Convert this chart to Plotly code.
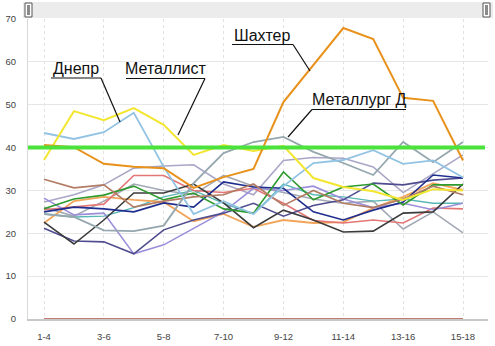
import plotly.graph_objects as go

# ---------------- data ----------------
categories = ["1-4", "2-5", "3-6", "4-7", "5-8", "6-9", "7-10", "8-11",
              "9-12", "10-13", "11-14", "12-15", "13-16", "14-17", "15-18"]
tick_labels = categories[::2]
y_ticks = [0, 10, 20, 30, 40, 50, 60, 70]
average_level = 40

shakhtar = [40.6, 40.1, 36.2, 35.5, 35.2, 30.6, 33.1, 35.0, 50.6, 59.3, 67.9, 65.3, 51.6, 50.9, 37.0]
metallist = [37.1, 48.5, 46.4, 49.2, 45.3, 38.3, 40.6, 39.2, 40.4, 32.9, 30.8, 29.8, 27.8, 30.3, 30.0]
dnepr = [43.4, 42.0, 43.6, 48.1, 35.5, 24.5, 27.5, 24.5, 31.0, 36.4, 37.1, 39.4, 36.2, 37.0, 33.0]
metallurg_d = [24.5, 23.8, 20.7, 20.5, 21.8, 31.7, 38.7, 41.3, 42.5, 39.0, 36.4, 33.6, 41.3, 36.6, 41.3]
team_brown = [32.6, 30.6, 31.3, 26.1, 27.5, 28.5, 29.0, 31.5, 26.5, 30.0, 27.0, 26.0, 28.0, 31.0, 29.0]
team_green = [25.7, 28.0, 28.9, 31.0, 27.8, 29.4, 25.7, 24.7, 34.3, 27.8, 30.8, 31.5, 26.6, 31.3, 31.3]
team_navy = [25.0, 26.1, 25.7, 25.0, 27.1, 26.1, 32.0, 30.8, 30.5, 25.0, 23.1, 25.4, 27.3, 33.6, 32.9]
team_black = [22.6, 17.5, 23.1, 29.4, 29.4, 31.5, 27.1, 21.3, 25.4, 23.1, 20.3, 20.5, 24.7, 25.0, 31.5]
team_slate = [21.2, 18.2, 18.0, 15.2, 20.8, 23.1, 24.7, 27.0, 24.0, 26.5, 27.8, 31.7, 31.3, 32.4, 32.9]
team_lavender = [28.2, 24.3, 24.7, 15.2, 17.3, 21.2, 25.0, 30.5, 30.0, 31.0, 28.0, 26.0, 27.0, 25.5, 27.0]
team_salmon = [25.5, 26.1, 26.8, 33.5, 33.5, 30.0, 29.5, 30.5, 27.0, 23.0, 22.4, 23.1, 22.4, 25.9, 25.7]
team_lightorange = [22.4, 27.5, 28.5, 27.8, 27.3, 22.8, 24.5, 21.5, 23.1, 22.4, 22.6, 25.9, 28.5, 31.7, 30.1]
team_greypurple = [27.3, 29.0, 31.3, 35.2, 35.7, 36.0, 31.5, 29.0, 37.0, 37.7, 37.5, 35.5, 29.5, 34.0, 38.3]
team_teal = [24.5, 23.8, 24.0, 26.0, 28.5, 30.0, 27.0, 24.5, 31.5, 29.0, 28.5, 27.5, 28.0, 27.0, 27.0]
team_grey = [26.0, 24.0, 27.5, 31.5, 30.0, 29.0, 33.5, 31.0, 29.5, 28.0, 27.0, 27.5, 21.0, 25.0, 20.1]
team_zero = [0, 0, 0, 0, 0, 0, 0, 0, 0, 0, 0, 0, 0, 0, 0]

series = [
    ("Команда 16", team_zero, "#c27b72", 2),
    ("Команда 15", team_grey, "#a2a8b4", 1.6),
    ("Команда 14", team_teal, "#58b8b4", 1.4),
    ("Команда 13", team_greypurple, "#a9a6c6", 1.6),
    ("Команда 12", team_lightorange, "#f2a55a", 1.8),
    ("Команда 11", team_salmon, "#e47676", 1.6),
    ("Команда 10", team_lavender, "#9c8fda", 1.6),
    ("Команда 9", team_slate, "#4f4d8f", 1.6),
    ("Команда 8", team_black, "#3c3c3c", 1.6),
    ("Команда 7", team_navy, "#1f2e8e", 1.6),
    ("Команда 6", team_green, "#2e9a2e", 1.6),
    ("Команда 5", team_brown, "#b27c64", 1.6),
    ("Металлург Д", metallurg_d, "#95a7ae", 1.8),
    ("Днепр", dnepr, "#92c3e3", 1.8),
    ("Металлист", metallist, "#f3e630", 2),
    ("Шахтер", shakhtar, "#e8921c", 2),
]

# ---------------- geometry helpers ----------------
W, H = 495, 346
L, R, T, B = 28, 7, 19, 27
PW, PH = W - L - R, H - T - B
x_range = [-0.535, 14.835]
y_range = [0, 70]


def dx(px):
    return x_range[0] + (px - L) / PW * (x_range[1] - x_range[0])


def dy(py):
    return y_range[0] + (H - B - py) / PH * (y_range[1] - y_range[0])


def pxp(px):
    return (px - L) / PW


def pyp(py):
    return (H - B - py) / PH


fig = go.Figure()
for name, vals, color, width in series:
    fig.add_trace(go.Scatter(x=categories, y=vals, mode="lines", name=name,
                             line=dict(color=color, width=width), showlegend=False))

shapes = []
# average line
shapes.append(dict(type="line", xref="paper", yref="y", x0=0, x1=pxp(485), y0=average_level,
                   y1=average_level, line=dict(color="#4be23c", width=4), layer="above"))

# fake range-slider bar at top
shapes.append(dict(type="rect", xref="paper", yref="paper", x0=pxp(23), x1=pxp(493),
                   y0=pyp(18), y1=pyp(2), fillcolor="#ececec", line=dict(width=0), layer="above"))
for hx in (25, 483):
    shapes.append(dict(type="rect", xref="paper", yref="paper", x0=pxp(hx), x1=pxp(hx + 7),
                       y0=pyp(17), y1=pyp(3), fillcolor="#ffffff",
                       line=dict(color="#555555", width=1), layer="above"))
    shapes.append(dict(type="rect", xref="paper", yref="paper", x0=pxp(hx + 2), x1=pxp(hx + 5),
                       y0=pyp(15), y1=pyp(5), fillcolor="#8a8a8a",
                       line=dict(width=0), layer="above"))

# callouts: (text, text_center_px, text_center_py, underline_x0, underline_x1, underline_y, leader_from_x, leader_to)
callouts = [
    ("Днепр", 76, 69, 51, 101, 78, 101, (120, 122)),
    ("Металлист", 166, 69, 126, 205, 78.5, 205, (178, 135)),
    ("Шахтер", 262, 36, 232, 293, 44.5, 293, (310, 71)),
    ("Металлург Д", 359, 99, 312, 406, 109.5, 312, (288, 137)),
]
annotations = []
for text, cx, cy, ux0, ux1, uy, lx, (tx, ty) in callouts:
    annotations.append(dict(text=text, xref="paper", yref="paper", x=pxp(cx), y=pyp(cy),
                            showarrow=False, xanchor="center", yanchor="middle",
                            font=dict(family="Liberation Sans", size=16, color="#111111")))
    shapes.append(dict(type="line", xref="x", yref="y", x0=dx(ux0), x1=dx(ux1), y0=dy(uy), y1=dy(uy),
                       line=dict(color="#111111", width=1.2), layer="above"))
    shapes.append(dict(type="line", xref="x", yref="y", x0=dx(lx), x1=dx(tx), y0=dy(uy), y1=dy(ty),
                       line=dict(color="#111111", width=1.2), layer="above"))

fig.update_layout(
    width=W, height=H,
    margin=dict(l=L, r=R, t=T, b=B, pad=0, autoexpand=False),
    paper_bgcolor="#ffffff", plot_bgcolor="#ffffff",
    shapes=shapes, annotations=annotations,
    showlegend=False,
    font=dict(family="Liberation Sans", size=9.5, color="#444444"),
)
fig.update_xaxes(type="category", range=x_range, tickmode="array", tickvals=tick_labels,
                 ticktext=tick_labels, showgrid=True, gridcolor="#e2e2e2", griddash="dot",
                 gridwidth=1, showline=True, linecolor="#c8c8c8", linewidth=1.5, ticks="",
                 ticklabelstandoff=8, zeroline=False, fixedrange=True, automargin=False)
fig.update_yaxes(range=y_range, tickvals=y_ticks, showgrid=True, gridcolor="#e6e6e6",
                 gridwidth=1, showline=True, linecolor="#d8d8d8", linewidth=1, ticks="",
                 ticklabelstandoff=9, zeroline=False, fixedrange=True, automargin=False)

fig.write_html("out.html")
